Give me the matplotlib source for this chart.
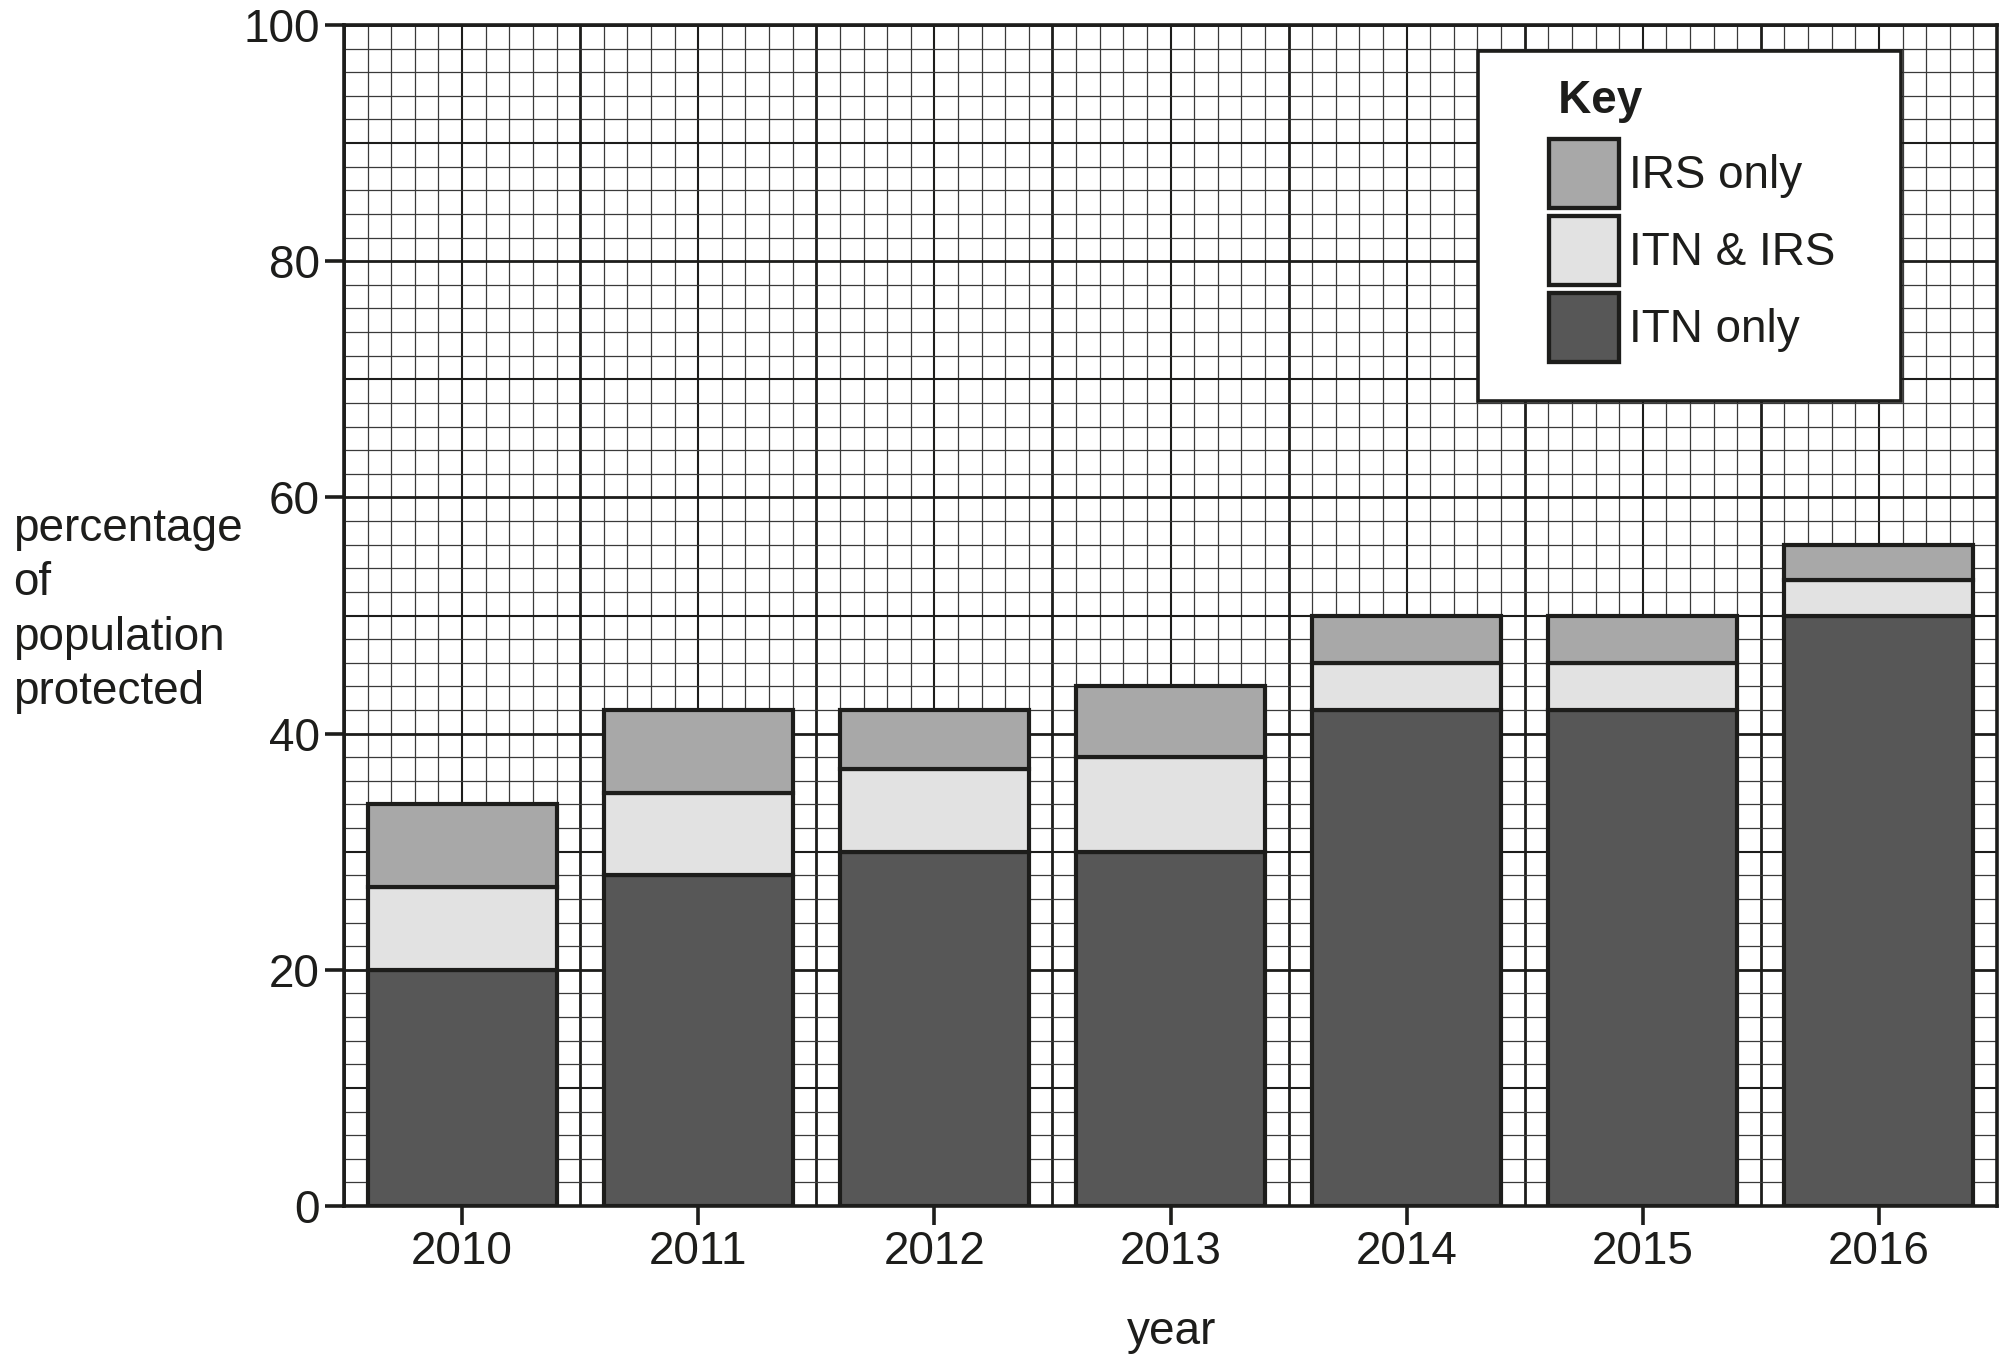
import numpy as np
import matplotlib
matplotlib.use("Agg")
import matplotlib.pyplot as plt
from matplotlib.patches import Patch, Rectangle

# ---- data ----
years = ['2010', '2011', '2012', '2013', '2014', '2015', '2016']
itn_only = [20, 28, 30, 30, 42, 42, 50]
itn_irs = [7, 7, 7, 8, 4, 4, 3]
irs_only = [7, 7, 5, 6, 4, 4, 3]
series_labels = ['ITN only', 'ITN & IRS', 'IRS only']
series_colors = ['#575757', '#e2e2e2', '#a8a8a8']
y_ticks = [0, 20, 40, 60, 80, 100]
ylabel_lines = ['percentage', 'of', 'population', 'protected']
xlabel = 'year'
key_title = '\u2009Key'

plt.rcParams['font.family'] = ['Liberation Sans', 'DejaVu Sans']
ink = '#1d1d1b'
FS = 33

W, H = 2011, 1366
fig = plt.figure(figsize=(W / 100, H / 100), dpi=100)
ax = fig.add_axes([344 / W, 1 - 1206 / H, (1997 - 344) / W, (1206 - 25) / H])

n = len(years)
ax.set_xlim(0, n)
ax.set_ylim(0, 100)

# graph-paper grid
for k in range(0, n * 10 + 1):
    if k % 10 == 0:
        lw, col = 2.0, ink
    elif k % 5 == 0:
        lw, col = 1.5, ink
    else:
        lw, col = 0.9, '#3a3a3a'
    ax.axvline(k / 10, color=col, lw=lw, zorder=1)
for v in range(0, 101, 2):
    if v % 20 == 0:
        lw, col = 2.0, ink
    elif v % 10 == 0:
        lw, col = 1.5, ink
    else:
        lw, col = 0.9, '#3a3a3a'
    ax.axhline(v, color=col, lw=lw, zorder=1)

# stacked bars
x = np.arange(n) + 0.5
bottom = np.zeros(n)
for vals, c, lab in zip([itn_only, itn_irs, irs_only], series_colors, series_labels):
    ax.bar(x, vals, 0.8, bottom=bottom, color=c, edgecolor=ink,
           linewidth=3.0, zorder=3, label=lab)
    bottom += np.array(vals)

for s in ax.spines.values():
    s.set_linewidth(2.6)
    s.set_color(ink)
    s.set_zorder(4)

ax.set_xticks(x, labels=years)
ax.set_yticks(y_ticks)
ax.tick_params(axis='both', direction='out', length=14, width=2.6,
               color=ink, labelsize=FS, labelcolor=ink)
ax.tick_params(axis='x', pad=3.5)
ax.tick_params(axis='y', pad=3.6)

# key
order = [2, 1, 0]
handles = [Patch(facecolor=series_colors[i], edgecolor=ink, linewidth=3.1) for i in order]
labels = [series_labels[i] for i in order]
leg = ax.legend(handles, labels, title=key_title,
                title_fontproperties={'weight': 'bold', 'size': FS},
                fontsize=FS, loc='upper left', bbox_to_anchor=(0.729, 0.954),
                borderpad=0, borderaxespad=0, frameon=False,
                handlelength=1.53, handleheight=1.94, labelspacing=0.175,
                handletextpad=0.22, alignment='left', labelcolor=ink)
leg.get_title().set_color(ink)
leg._legend_box.sep = 11
leg.set_zorder(7)
ax.add_patch(Rectangle((0.686, 0.6816), 0.942 - 0.686, 0.978 - 0.6816,
                       transform=ax.transAxes, facecolor='white', edgecolor=ink,
                       lw=2.6, zorder=6, clip_on=False))

# axis labels
baselines = [541, 595, 650, 704]
for line, yb in zip(ylabel_lines, baselines):
    fig.text(13 / W, 1 - yb / H, line, ha='left', va='baseline', fontsize=FS, color=ink)
fig.text(1172 / W, 1 - 1344 / H, xlabel, ha='center', va='baseline', fontsize=FS, color=ink)

fig.savefig('out.png', dpi=100)
